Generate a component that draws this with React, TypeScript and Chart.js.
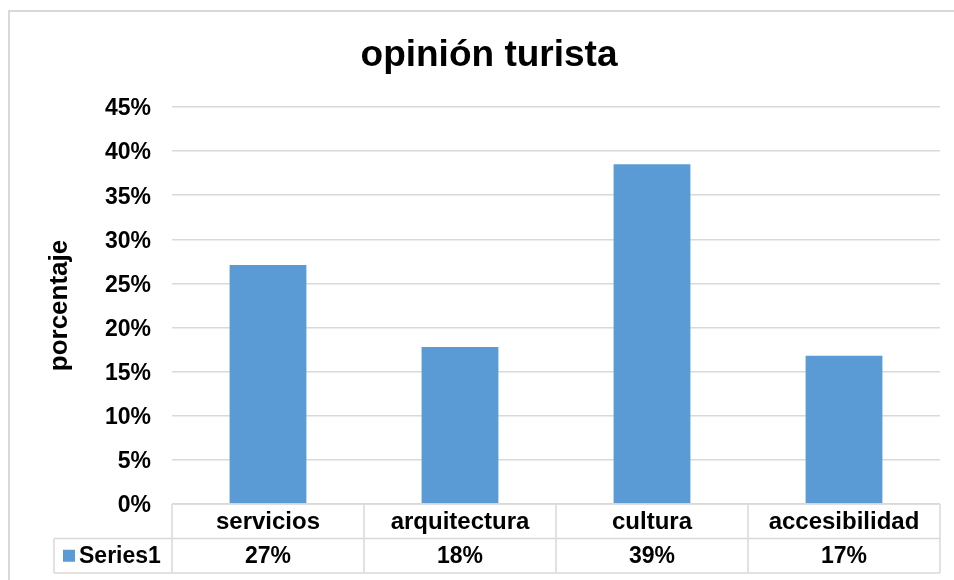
import React, { useEffect, useRef } from 'react';
import { Chart, registerables } from 'chart.js';

Chart.register(...registerables);

const chartTitle = 'opinión turista';
const yAxisTitle = 'porcentaje';
const seriesName = 'Series1';
const categories = ['servicios', 'arquitectura', 'cultura', 'accesibilidad'];
const values = [27.1, 17.8, 38.5, 16.8];
const yMin = 0;
const yMax = 45;
const yStep = 5;

const FONT = '"Liberation Sans", Arial, sans-serif';
const BAR = '#5b9bd5';
const LINE = '#d9d9d9';

const fmt = (v: number) => `${Math.round(v)}%`;

const decor = {
  id: 'decor',
  beforeDraw(chart: any) {
    const { ctx, width, height } = chart;
    ctx.save();
    ctx.fillStyle = '#ffffff';
    ctx.fillRect(0, 0, width, height);
    ctx.strokeStyle = LINE;
    ctx.lineWidth = 2;
    ctx.strokeRect(9, 11, width + 20, height + 20);
    ctx.restore();
  },
  afterDraw(chart: any) {
    const { ctx, chartArea } = chart;
    const xs = chart.scales.x;
    const n = categories.length;
    const half = (xs.getPixelForValue(1) - xs.getPixelForValue(0)) / 2;
    const left = xs.getPixelForValue(0) - half;
    const right = xs.getPixelForValue(n - 1) + half;
    const top = chartArea.bottom;
    const rowH = 34.5;
    const legendLeft = 54;

    ctx.save();
    // title
    ctx.fillStyle = '#000000';
    ctx.font = `bold 37px ${FONT}`;
    ctx.textAlign = 'center';
    ctx.textBaseline = 'alphabetic';
    ctx.fillText(chartTitle, 489, 66);

    // y axis title
    ctx.save();
    ctx.translate(67, (chartArea.top + chartArea.bottom) / 2);
    ctx.rotate(-Math.PI / 2);
    ctx.font = `bold 26px ${FONT}`;
    ctx.textAlign = 'center';
    ctx.textBaseline = 'alphabetic';
    ctx.fillText(yAxisTitle, 0, 0);
    ctx.restore();

    // table lines
    ctx.strokeStyle = LINE;
    ctx.lineWidth = 1.5;
    ctx.beginPath();
    ctx.moveTo(left, top);
    ctx.lineTo(right, top);
    ctx.moveTo(legendLeft, top + rowH);
    ctx.lineTo(right, top + rowH);
    ctx.moveTo(legendLeft, top + 2 * rowH);
    ctx.lineTo(right, top + 2 * rowH);
    ctx.moveTo(legendLeft, top + rowH);
    ctx.lineTo(legendLeft, top + 2 * rowH);
    for (let i = 0; i <= n; i++) {
      const x = left + i * half * 2;
      ctx.moveTo(x, top);
      ctx.lineTo(x, top + 2 * rowH);
    }
    ctx.stroke();

    // table text
    ctx.fillStyle = '#000000';
    ctx.textAlign = 'center';
    ctx.textBaseline = 'middle';
    for (let i = 0; i < n; i++) {
      const cx = xs.getPixelForValue(i);
      ctx.font = `bold 24px ${FONT}`;
      ctx.fillText(categories[i], cx, top + rowH / 2 + 1);
      ctx.font = `bold 23px ${FONT}`;
      ctx.fillText(fmt(values[i]), cx, top + rowH * 1.5 + 1);
    }
    // legend key
    ctx.fillStyle = BAR;
    ctx.fillRect(63, top + rowH * 1.5 - 6, 12, 12);
    ctx.fillStyle = '#000000';
    ctx.textAlign = 'left';
    ctx.font = `bold 23px ${FONT}`;
    ctx.fillText(seriesName, 79, top + rowH * 1.5 + 1);
    ctx.restore();
  },
};

export default function App() {
  const ref = useRef<HTMLCanvasElement | null>(null);
  useEffect(() => {
    if (!ref.current) return;
    const chart = new Chart(ref.current, {
      type: 'bar',
      data: {
        labels: categories,
        datasets: [
          {
            label: seriesName,
            data: values,
            backgroundColor: BAR,
            borderWidth: 0,
            barPercentage: 0.4,
            categoryPercentage: 1,
          },
        ],
      },
      options: {
        animation: false,
        responsive: false,
        layout: { padding: { top: 107, right: 14, bottom: 0, left: 0 } },
        plugins: {
          legend: { display: false },
          tooltip: { enabled: false },
          title: { display: false },
        },
        scales: {
          x: {
            grid: { display: false },
            border: { display: false },
            ticks: { display: false },
            afterFit: (s: any) => {
              s.height = 76;
            },
          },
          y: {
            min: yMin,
            max: yMax,
            ticks: {
              stepSize: yStep,
              padding: 21,
              labelOffset: 2,
              color: '#000000',
              font: { family: FONT, size: 23, weight: 'bold' },
              callback: (v: any) => fmt(Number(v)),
            },
            grid: { color: LINE, lineWidth: 1.5, drawTicks: false },
            border: { display: false },
            afterFit: (s: any) => {
              s.width = 172;
            },
          },
        },
      },
      plugins: [decor],
    });
    return () => chart.destroy();
  }, []);
  return (
    <div style={{ position: 'absolute', left: 0, top: 0, width: 954, height: 580 }}>
      <canvas ref={ref} width={954} height={580} style={{ display: 'block' }} />
    </div>
  );
}
